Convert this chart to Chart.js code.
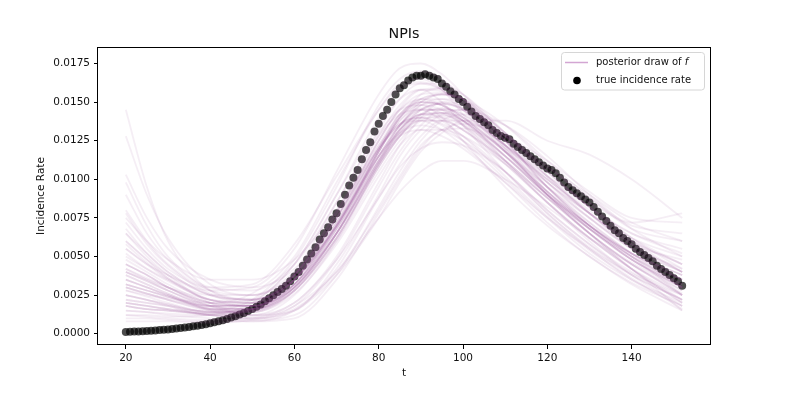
<!DOCTYPE html>
<html>
<head>
<meta charset="utf-8">
<title>NPIs</title>
<script src="https://cdn.jsdelivr.net/npm/chart.js@4.4.1/dist/chart.umd.min.js"></script>
<style>
  html, body { margin: 0; padding: 0; background: #fff; }
  canvas { display: block; }
</style>
</head>
<body>
<canvas id="chart" width="789" height="395"></canvas>
<script>
// observed incidence rate, one point per day
var tTrue = [20,21,22,23,24,25,26,27,28,29,30,31,32,33,34,35,36,37,38,39,
  40,41,42,43,44,45,46,47,48,49,50,51,52,53,54,55,56,57,58,59,
  60,61,62,63,64,65,66,67,68,69,70,71,72,73,74,75,76,77,78,79,
  80,81,82,83,84,85,86,87,88,89,90,91,92,93,94,95,96,97,98,99,
  100,101,102,103,104,105,106,107,108,109,110,111,112,113,114,115,116,117,118,119,
  120,121,122,123,124,125,126,127,128,129,130,131,132,133,134,135,136,137,138,139,
  140,141,142,143,144,145,146,147,148,149,150,151,152];
var trueRate = [0.00012,0.00013,0.00014,0.00015,0.00016,0.00018,0.00019,0.00021,0.00024,0.00026,
  0.00028,0.00031,0.00034,0.00037,0.00041,0.00044,0.00048,0.00052,0.00057,0.00062,
  0.00068,0.00074,0.00081,0.00088,0.00096,0.00105,0.00114,0.00124,0.00135,0.00147,
  0.0016,0.00175,0.0019,0.0021,0.0023,0.0025,0.0027,0.0029,0.0031,0.0034,
  0.0037,0.0040,0.0044,0.0048,0.0052,0.0056,0.0061,0.0065,0.0069,0.0074,
  0.0078,0.0084,0.0090,0.0096,0.0101,0.0106,0.0113,0.0119,0.0124,0.0131,
  0.0136,0.0141,0.0145,0.0150,0.0155,0.0159,0.0161,0.0164,0.0166,0.0167,
  0.0167,0.0168,0.0167,0.0166,0.0165,0.0162,0.0160,0.0157,0.0155,0.0152,
  0.0150,0.0147,0.0144,0.0141,0.0139,0.0137,0.0135,0.0132,0.0130,0.0128,
  0.0127,0.0126,0.0123,0.0121,0.0119,0.0117,0.0115,0.0113,0.0111,0.0109,
  0.0107,0.0106,0.0104,0.0101,0.0098,0.0095,0.0093,0.0091,0.0089,0.0087,
  0.0085,0.0082,0.0079,0.0076,0.0073,0.0070,0.0067,0.0065,0.0062,0.0060,
  0.0058,0.0055,0.0053,0.0051,0.0049,0.0047,0.0044,0.0042,0.0040,0.0038,
  0.0036,0.0034,0.0031];

// posterior draws of f, read at these t values
var tDraw = [20,25,30,40,50,60,70,80,85,90,95,100,110,120,130,140,152];
var posteriorDraws = [
  [0.0020,0.0018,0.0016,0.0015,0.0022,0.0048,0.0095,0.0148,0.0165,0.0170,0.0165,0.0152,0.0122,0.0092,0.0068,0.0048,0.0030],
  [0.0055,0.0045,0.0038,0.0028,0.0030,0.0055,0.0105,0.0155,0.0172,0.0175,0.0168,0.0155,0.0125,0.0095,0.0070,0.0050,0.0025],
  [0.0012,0.0012,0.0011,0.0012,0.0020,0.0045,0.0090,0.0140,0.0158,0.0162,0.0158,0.0148,0.0120,0.0090,0.0065,0.0042,0.0020],
  [0.0080,0.0060,0.0045,0.0030,0.0032,0.0058,0.0102,0.0145,0.0160,0.0163,0.0158,0.0145,0.0118,0.0092,0.0070,0.0052,0.0038],
  [0.0030,0.0026,0.0023,0.0020,0.0026,0.0050,0.0098,0.0145,0.0162,0.0165,0.0158,0.0142,0.0112,0.0085,0.0062,0.0042,0.0015],
  [0.0028,0.0024,0.0020,0.0014,0.0018,0.0040,0.0085,0.0130,0.0145,0.0148,0.0140,0.0125,0.0095,0.0070,0.0050,0.0032,0.0015],
  [0.0042,0.0036,0.0030,0.0020,0.0022,0.0045,0.0090,0.0135,0.0152,0.0158,0.0150,0.0135,0.0105,0.0078,0.0055,0.0035,0.0018],
  [0.0145,0.0095,0.0060,0.0028,0.0022,0.0035,0.0070,0.0115,0.0135,0.0148,0.0150,0.0145,0.0118,0.0090,0.0070,0.0052,0.0035],
  [0.0128,0.0090,0.0062,0.0032,0.0025,0.0038,0.0075,0.0120,0.0142,0.0152,0.0155,0.0150,0.0122,0.0095,0.0072,0.0052,0.0030],
  [0.0103,0.0075,0.0055,0.0035,0.0030,0.0042,0.0078,0.0125,0.0145,0.0155,0.0156,0.0152,0.0125,0.0098,0.0078,0.0060,0.0045],
  [0.0098,0.0070,0.0050,0.0030,0.0028,0.0045,0.0085,0.0132,0.0152,0.0162,0.0162,0.0155,0.0128,0.0098,0.0075,0.0055,0.0040],
  [0.0075,0.0060,0.0048,0.0035,0.0035,0.0048,0.0080,0.0120,0.0135,0.0145,0.0149,0.0146,0.0128,0.0108,0.0090,0.0072,0.0060],
  [0.0072,0.0055,0.0042,0.0028,0.0025,0.0038,0.0070,0.0118,0.0138,0.0150,0.0155,0.0152,0.0130,0.0105,0.0082,0.0065,0.0055],
  [0.0065,0.0052,0.0040,0.0025,0.0020,0.0032,0.0065,0.0110,0.0132,0.0145,0.0149,0.0145,0.0122,0.0098,0.0078,0.0060,0.0045],
  [0.0060,0.0048,0.0038,0.0025,0.0022,0.0035,0.0068,0.0112,0.0132,0.0142,0.0143,0.0138,0.0115,0.0090,0.0070,0.0052,0.0038],
  [0.0055,0.0045,0.0035,0.0022,0.0020,0.0038,0.0075,0.0125,0.0146,0.0158,0.0159,0.0152,0.0125,0.0095,0.0070,0.0048,0.0032],
  [0.0050,0.0042,0.0035,0.0025,0.0025,0.0040,0.0072,0.0115,0.0130,0.0140,0.0143,0.0140,0.0122,0.0102,0.0085,0.0070,0.0065],
  [0.0048,0.0040,0.0032,0.0020,0.0018,0.0030,0.0062,0.0108,0.0128,0.0142,0.0146,0.0142,0.0122,0.0098,0.0075,0.0055,0.0040],
  [0.0045,0.0038,0.0030,0.0020,0.0018,0.0032,0.0068,0.0118,0.0140,0.0155,0.0159,0.0155,0.0130,0.0102,0.0078,0.0058,0.0048],
  [0.0042,0.0035,0.0028,0.0018,0.0016,0.0028,0.0060,0.0105,0.0125,0.0138,0.0141,0.0138,0.0118,0.0095,0.0075,0.0056,0.0042],
  [0.0040,0.0035,0.0030,0.0022,0.0020,0.0032,0.0065,0.0112,0.0134,0.0148,0.0152,0.0150,0.0130,0.0108,0.0088,0.0072,0.0078],
  [0.0038,0.0032,0.0026,0.0018,0.0018,0.0035,0.0072,0.0122,0.0142,0.0152,0.0152,0.0146,0.0120,0.0090,0.0065,0.0046,0.0030],
  [0.0035,0.0030,0.0025,0.0016,0.0015,0.0028,0.0062,0.0110,0.0130,0.0145,0.0149,0.0145,0.0125,0.0102,0.0082,0.0065,0.0052],
  [0.0032,0.0028,0.0024,0.0018,0.0018,0.0032,0.0068,0.0115,0.0132,0.0142,0.0143,0.0138,0.0115,0.0090,0.0068,0.0050,0.0035],
  [0.0030,0.0026,0.0022,0.0016,0.0016,0.0030,0.0065,0.0115,0.0135,0.0150,0.0155,0.0152,0.0130,0.0105,0.0082,0.0060,0.0040],
  [0.0028,0.0025,0.0022,0.0018,0.0020,0.0038,0.0078,0.0128,0.0148,0.0158,0.0157,0.0150,0.0125,0.0095,0.0070,0.0052,0.0038],
  [0.0025,0.0022,0.0019,0.0014,0.0015,0.0030,0.0065,0.0110,0.0128,0.0142,0.0146,0.0142,0.0122,0.0100,0.0080,0.0062,0.0050],
  [0.0022,0.0020,0.0018,0.0012,0.0009,0.0012,0.0038,0.0082,0.0105,0.0125,0.0138,0.0142,0.0135,0.0115,0.0090,0.0068,0.0050],
  [0.0065,0.0050,0.0038,0.0020,0.0012,0.0015,0.0045,0.0090,0.0115,0.0132,0.0142,0.0145,0.0135,0.0112,0.0088,0.0068,0.0060],
  [0.0015,0.0014,0.0012,0.0010,0.0008,0.0010,0.0035,0.0078,0.0100,0.0120,0.0132,0.0133,0.0120,0.0100,0.0078,0.0058,0.0040],
  [0.0035,0.0030,0.0025,0.0015,0.0010,0.0018,0.0048,0.0095,0.0118,0.0135,0.0145,0.0145,0.0128,0.0105,0.0082,0.0062,0.0045],
  [0.0010,0.0010,0.0009,0.0008,0.0008,0.0015,0.0042,0.0088,0.0110,0.0128,0.0138,0.0138,0.0122,0.0100,0.0078,0.0058,0.0040],
  [0.0008,0.0008,0.0008,0.0007,0.0009,0.0016,0.0040,0.0080,0.0102,0.0122,0.0132,0.0136,0.0128,0.0112,0.0092,0.0075,0.0072],
  [0.0045,0.0038,0.0030,0.0018,0.0012,0.0020,0.0050,0.0098,0.0122,0.0140,0.0150,0.0148,0.0128,0.0102,0.0078,0.0055,0.0035],
  [0.0018,0.0016,0.0015,0.0012,0.0010,0.0015,0.0038,0.0075,0.0098,0.0118,0.0130,0.0138,0.0138,0.0125,0.0116,0.0100,0.0075],
  [0.0038,0.0032,0.0026,0.0016,0.0014,0.0028,0.0065,0.0118,0.0140,0.0150,0.0148,0.0140,0.0118,0.0092,0.0070,0.0050,0.0032],
  [0.0025,0.0022,0.0018,0.0012,0.0012,0.0025,0.0060,0.0110,0.0132,0.0142,0.0140,0.0132,0.0110,0.0085,0.0062,0.0042,0.0022],
  [0.0052,0.0042,0.0034,0.0022,0.0018,0.0030,0.0065,0.0112,0.0135,0.0145,0.0145,0.0138,0.0115,0.0090,0.0068,0.0048,0.0028],
  [0.0015,0.0014,0.0013,0.0012,0.0015,0.0032,0.0070,0.0120,0.0142,0.0150,0.0148,0.0140,0.0118,0.0092,0.0068,0.0048,0.0030],
  [0.0040,0.0034,0.0028,0.0018,0.0016,0.0028,0.0062,0.0108,0.0128,0.0138,0.0138,0.0132,0.0112,0.0088,0.0065,0.0045,0.0025],
  [0.0068,0.0052,0.0040,0.0025,0.0022,0.0035,0.0070,0.0118,0.0140,0.0152,0.0155,0.0152,0.0135,0.0110,0.0085,0.0062,0.0042],
  [0.0020,0.0018,0.0016,0.0013,0.0014,0.0028,0.0062,0.0108,0.0128,0.0138,0.0138,0.0132,0.0112,0.0088,0.0065,0.0045,0.0026],
  [0.0032,0.0028,0.0024,0.0016,0.0015,0.0030,0.0068,0.0118,0.0140,0.0150,0.0148,0.0140,0.0118,0.0090,0.0065,0.0042,0.0020],
  [0.0090,0.0065,0.0048,0.0028,0.0022,0.0035,0.0070,0.0115,0.0135,0.0145,0.0145,0.0138,0.0118,0.0095,0.0072,0.0052,0.0035],
  [0.0045,0.0038,0.0030,0.0020,0.0018,0.0035,0.0072,0.0120,0.0140,0.0148,0.0145,0.0135,0.0110,0.0085,0.0062,0.0042,0.0025],
  [0.0030,0.0026,0.0022,0.0015,0.0014,0.0026,0.0058,0.0102,0.0122,0.0132,0.0132,0.0128,0.0110,0.0088,0.0068,0.0050,0.0032],
  [0.0018,0.0016,0.0015,0.0013,0.0016,0.0035,0.0075,0.0125,0.0145,0.0152,0.0148,0.0138,0.0112,0.0085,0.0060,0.0038,0.0018],
  [0.0058,0.0046,0.0036,0.0022,0.0018,0.0030,0.0065,0.0110,0.0130,0.0140,0.0140,0.0135,0.0115,0.0092,0.0070,0.0050,0.0030],
  [0.0022,0.0020,0.0018,0.0014,0.0016,0.0032,0.0070,0.0118,0.0138,0.0146,0.0143,0.0135,0.0112,0.0088,0.0065,0.0045,0.0028],
  [0.0035,0.0030,0.0025,0.0017,0.0016,0.0030,0.0065,0.0112,0.0132,0.0142,0.0142,0.0136,0.0115,0.0090,0.0068,0.0048,0.0030],
  [0.0025,0.0022,0.0019,0.0014,0.0016,0.0035,0.0075,0.0120,0.0135,0.0138,0.0132,0.0122,0.0098,0.0072,0.0050,0.0033,0.0018],
  [0.0040,0.0034,0.0028,0.0018,0.0018,0.0038,0.0078,0.0122,0.0136,0.0140,0.0135,0.0125,0.0100,0.0075,0.0052,0.0035,0.0020],
  [0.0060,0.0048,0.0036,0.0022,0.0020,0.0035,0.0070,0.0112,0.0128,0.0132,0.0128,0.0120,0.0098,0.0075,0.0055,0.0038,0.0022],
  [0.0018,0.0016,0.0015,0.0013,0.0016,0.0038,0.0080,0.0128,0.0142,0.0145,0.0138,0.0128,0.0102,0.0076,0.0054,0.0036,0.0016],
  [0.0032,0.0028,0.0024,0.0016,0.0016,0.0032,0.0070,0.0115,0.0130,0.0135,0.0132,0.0125,0.0105,0.0080,0.0058,0.0038,0.0022],
  [0.0078,0.0058,0.0044,0.0026,0.0022,0.0038,0.0075,0.0120,0.0136,0.0140,0.0136,0.0128,0.0105,0.0078,0.0056,0.0039,0.0025],
  [0.0012,0.0011,0.0010,0.0009,0.0010,0.0018,0.0040,0.0075,0.0092,0.0105,0.0112,0.0112,0.0100,0.0082,0.0062,0.0045,0.0025],
  [0.0020,0.0018,0.0016,0.0012,0.0011,0.0020,0.0048,0.0088,0.0108,0.0120,0.0124,0.0122,0.0105,0.0080,0.0058,0.0040,0.0022]
];

var xTicks = [20, 40, 60, 80, 100, 120, 140];
var yTicks = [0, 0.0025, 0.005, 0.0075, 0.01, 0.0125, 0.015, 0.0175];

Chart.defaults.font.family = "'DejaVu Sans', sans-serif";
Chart.defaults.color = '#111';

var datasets = [];
for (var i = 0; i < posteriorDraws.length; i++) {
  datasets.push({
    label: 'posterior draw of f',
    data: tDraw.map(function(t, j) { return {x: t, y: posteriorDraws[i][j]}; }),
    borderColor: 'rgba(140, 70, 140, 0.09)',
    borderWidth: 1.8,
    pointRadius: 0,
    fill: false,
    cubicInterpolationMode: 'monotone',
    order: 1
  });
}
// drawn first (higher order), the draws go over it
datasets.push({
  label: 'true incidence rate',
  data: tTrue.map(function(t, j) { return {x: t, y: trueRate[j]}; }),
  showLine: false,
  pointRadius: 4,
  pointBorderWidth: 0,
  pointBackgroundColor: 'rgba(0, 0, 0, 0.7)',
  pointBorderColor: 'rgba(0, 0, 0, 0)',
  order: 2
});

// spines, title and legend drawn like matplotlib
var decorations = {
  id: 'decorations',
  afterDraw: function(chart) {
    var ctx = chart.ctx;
    var a = chart.chartArea;
    ctx.save();
    ctx.strokeStyle = '#000';
    ctx.lineWidth = 1;
    ctx.strokeRect(Math.round(a.left) - 0.5, Math.round(a.top) + 0.5,
      Math.round(a.right - a.left) + 1, Math.round(a.bottom - a.top) - 1);

    ctx.fillStyle = '#111';
    ctx.font = "14.3px 'DejaVu Sans'";
    ctx.textAlign = 'center';
    ctx.textBaseline = 'middle';
    ctx.fillText('NPIs', (a.left + a.right) / 2, 34);

    // legend box
    ctx.beginPath();
    if (ctx.roundRect) ctx.roundRect(561.5, 52.5, 143, 37.5, 3);
    else ctx.rect(561.5, 52.5, 143, 37.5);
    ctx.fillStyle = 'rgba(255,255,255,0.8)';
    ctx.fill();
    ctx.strokeStyle = '#d6d6d6';
    ctx.stroke();

    ctx.beginPath();
    ctx.moveTo(565, 62.5);
    ctx.lineTo(588, 62.5);
    ctx.strokeStyle = '#d3a6d3';
    ctx.lineWidth = 1.5;
    ctx.stroke();

    ctx.beginPath();
    ctx.arc(577, 80.5, 3.8, 0, Math.PI * 2);
    ctx.fillStyle = '#000';
    ctx.fill();

    ctx.fillStyle = '#111';
    ctx.textAlign = 'left';
    ctx.font = "10px 'DejaVu Sans'";
    var s = 'posterior draw of ';
    ctx.fillText(s, 596, 62.5);
    var w = ctx.measureText(s).width;
    ctx.font = "italic 10px 'DejaVu Sans'";
    ctx.fillText('f', 596 + w, 62.5);
    ctx.font = "10px 'DejaVu Sans'";
    ctx.fillText('true incidence rate', 596, 80.5);
    ctx.restore();
  }
};

new Chart(document.getElementById('chart'), {
  type: 'line',
  data: { datasets: datasets },
  options: {
    responsive: false,
    animation: false,
    devicePixelRatio: 1,
    events: [],
    layout: { padding: { left: 0, top: 47, right: 79, bottom: 0 } },
    plugins: {
      legend: { display: false },
      title: { display: false },
      tooltip: { enabled: false }
    },
    scales: {
      x: {
        type: 'linear',
        min: 13.4,
        max: 158.6,
        afterFit: function(s) { s.height = 50; },
        afterBuildTicks: function(s) { s.ticks = xTicks.map(function(v) { return {value: v}; }); },
        grid: { drawOnChartArea: false, tickLength: 4, tickColor: '#000', tickWidth: 1 },
        border: { display: false },
        ticks: { padding: 3, maxRotation: 0, font: { size: 10.5 }, color: '#111' },
        title: { display: true, text: 't', font: { size: 10.5 }, color: '#111', padding: { top: 0, bottom: 15 } }
      },
      y: {
        min: -0.00073,
        max: 0.01857,
        afterFit: function(s) { s.width = 98; },
        afterBuildTicks: function(s) { s.ticks = yTicks.map(function(v) { return {value: v}; }); },
        grid: { drawOnChartArea: false, tickLength: 4, tickColor: '#000', tickWidth: 1 },
        border: { display: false },
        ticks: {
          padding: 4,
          font: { size: 10.5 },
          color: '#111',
          callback: function(v) { return v.toFixed(4); }
        },
        title: { display: true, text: 'Incidence Rate', font: { size: 10.5 }, color: '#111', padding: { top: 35, bottom: 0 } }
      }
    }
  },
  plugins: [decorations]
});
</script>
</body>
</html>
